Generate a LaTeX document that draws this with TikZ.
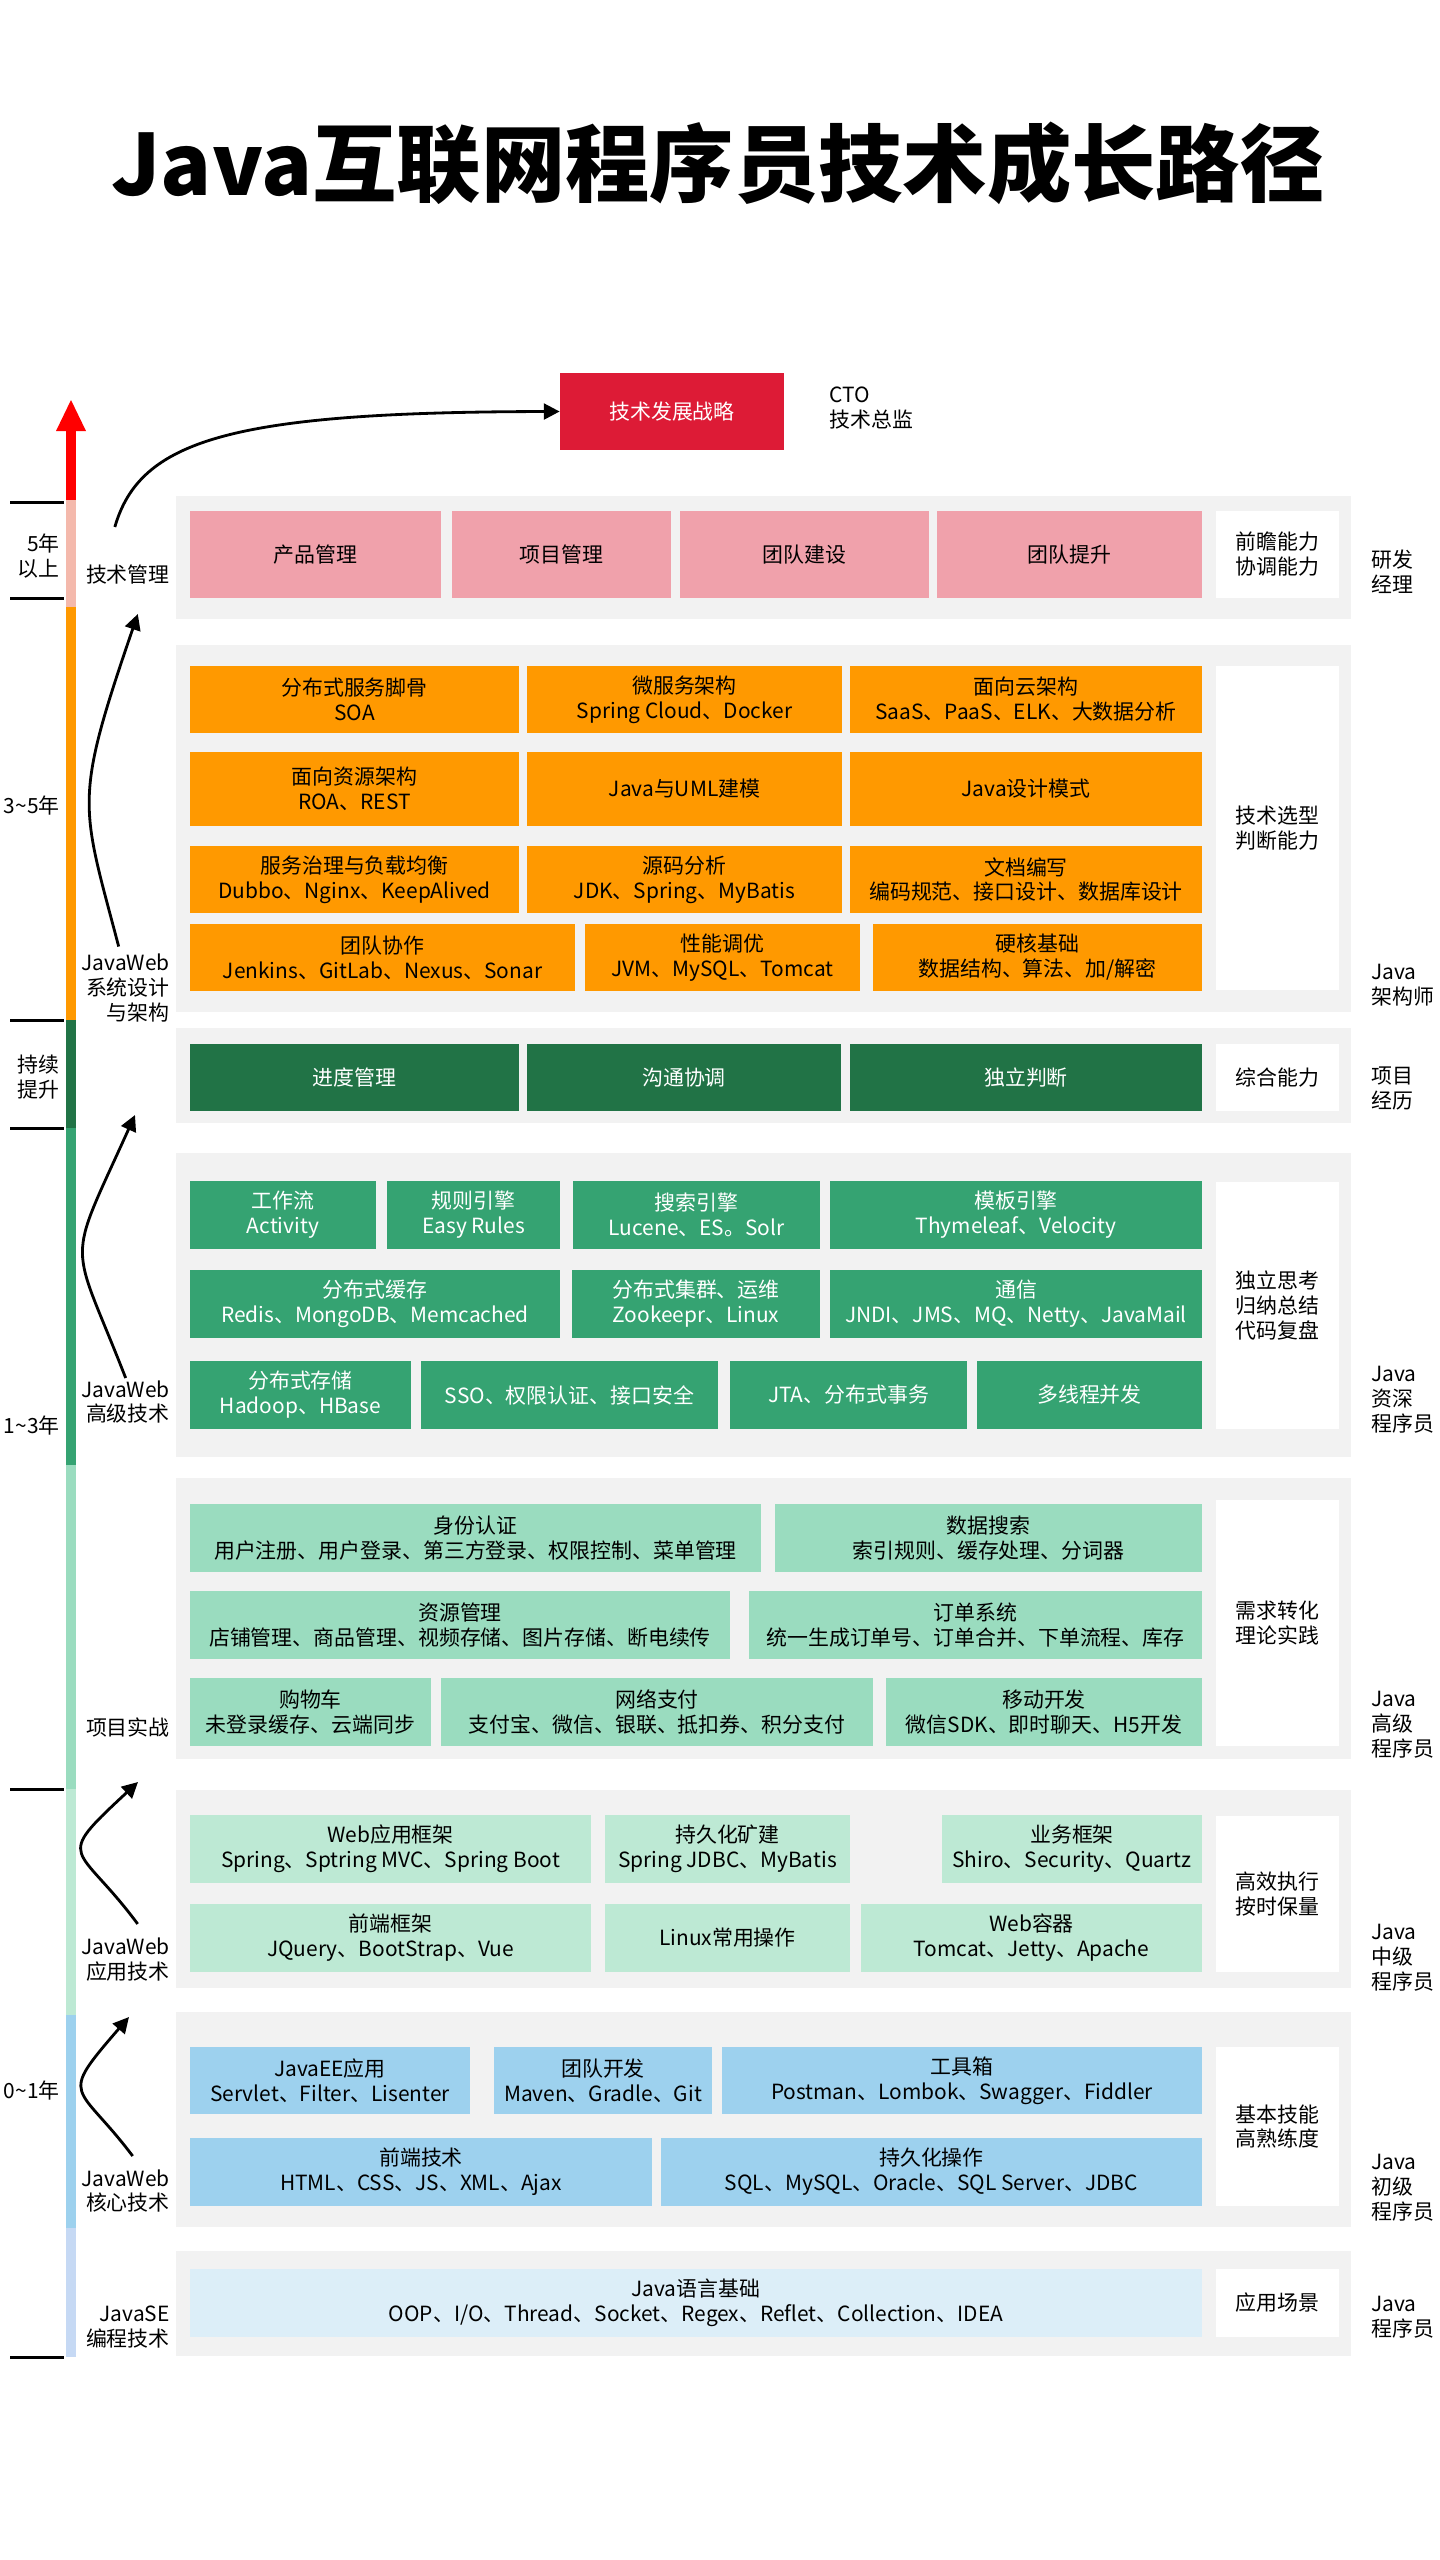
\documentclass[tikz,border=0pt]{standalone}
\usepackage{fontspec}
\setmainfont{Noto Sans CJK SC}
\usetikzlibrary{arrows.meta,calc}
\definecolor{jRed}{HTML}{FF0000}
\definecolor{jCrimson}{HTML}{DD1B36}
\definecolor{jRose}{HTML}{F4B9AC}
\definecolor{jPink}{HTML}{F0A1AB}
\definecolor{jOrange}{HTML}{FF9900}
\definecolor{jDkGreen}{HTML}{217346}
\definecolor{jGreen}{HTML}{35A372}
\definecolor{jMint}{HTML}{9ADCBF}
\definecolor{jPale}{HTML}{BDE9D4}
\definecolor{jBlue}{HTML}{9DD1EE}
\definecolor{jIce}{HTML}{DCEEF8}
\definecolor{jLav}{HTML}{C6D9F4}
\definecolor{jGrey}{HTML}{F2F2F2}
\newcommand{\bx}{\fontsize{11.9}{14.2}\selectfont}
\tikzset{
  >={Triangle[length=9pt,width=9pt]},
  sz/.style 2 args={minimum width={(#1)*0.02cm}, minimum height={(#2)*0.02cm}},
  panel/.style={fill=jGrey, inner sep=0pt},
  blk/.style={align=center, inner sep=0pt, font=\bx},
  side/.style={blk, fill=white},
  pinkb/.style={blk, fill=jPink},
  orngb/.style={blk, fill=jOrange},
  dkgb/.style={blk, fill=jDkGreen, text=white},
  grnb/.style={blk, fill=jGreen, text=white},
  mintb/.style={blk, fill=jMint},
  paleb/.style={blk, fill=jPale},
  blueb/.style={blk, fill=jBlue},
  iceb/.style={blk, fill=jIce},
  ltag/.style={font=\bx, align=right, anchor=east, inner sep=0pt},
  rtag/.style={font=\bx, align=left, anchor=west, inner sep=0pt},
  tick/.style={line width=1.7pt},
  flow/.style={->, line width=1.6pt},
}

\begin{document}
\begin{tikzpicture}[x=0.02cm, y=-0.02cm]
  \useasboundingbox (0,0) rectangle (1440,2560);
  \node[font=\fontsize{48}{56}\selectfont\bfseries] (title) at (718,163) {Java互联网程序员技术成长路径};

  % grey bands
  \foreach \n/\ya/\yb in {p1/496/619,p2/645/1012,p3/1028/1123,p4/1153/1457,
                          p5/1478/1759,p6/1790/1988,p7/2012/2227,p8/2251/2356}
    \node[panel, sz={1175}{\yb-\ya}] (\n) at (763.5,{(\ya+\yb)/2}) {};

  % white side boxes
  \node[side, sz={123}{87}]  (w1) at (1277.5,554.5)  {前瞻能力\\协调能力};
  \node[side, sz={123}{324}] (w2) at (1277.5,828)    {技术选型\\判断能力};
  \node[side, sz={123}{67}]  (w3) at (1277.5,1077.5) {综合能力};
  \node[side, sz={123}{247}] (w4) at (1277.5,1305.5) {独立思考\\归纳总结\\代码复盘};
  \node[side, sz={123}{246}] (w5) at (1277.5,1623)   {需求转化\\理论实践};
  \node[side, sz={123}{156}] (w6) at (1277.5,1894)   {高效执行\\按时保量};
  \node[side, sz={123}{159}] (w7) at (1277.5,2126.5) {基本技能\\高熟练度};
  \node[side, sz={123}{68}]  (w8) at (1277.5,2303)   {应用场景};

  % top: strategy
  \node[blk, fill=jCrimson, text=white, sz={224}{77}] (strat) at (672,411.5) {技术发展战略};
  \node[rtag] (cto) at (829,408) {CTO\\技术总监};

  % management
  \foreach \n/\xa/\xb/\txt in {pk1/190/441/产品管理,pk2/452/671/项目管理,
                               pk3/680/929/团队建设,pk4/937/1202/团队提升}
    \node[pinkb, sz={\xb-\xa}{87}] (\n) at ({(\xa+\xb)/2},554.5) {\txt};

  % architecture
  \foreach \n/\xa/\xb/\txt in {or1/190/519/分布式服务脚骨\\SOA,
                               or2/527/842/微服务架构\\Spring Cloud、Docker,
                               or3/850/1202/面向云架构\\SaaS、PaaS、ELK、大数据分析}
    \node[orngb, sz={\xb-\xa}{67}] (\n) at ({(\xa+\xb)/2},699.5) {\txt};
  \foreach \n/\xa/\xb/\txt in {or4/190/519/面向资源架构\\ROA、REST,
                               or5/527/842/Java与UML建模,
                               or6/850/1202/Java设计模式}
    \node[orngb, sz={\xb-\xa}{74}] (\n) at ({(\xa+\xb)/2},789) {\txt};
  \foreach \n/\xa/\xb/\txt in {or7/190/519/服务治理与负载均衡\\Dubbo、Nginx、KeepAlived,
                               or8/527/842/源码分析\\JDK、Spring、MyBatis,
                               or9/850/1202/文档编写\\编码规范、接口设计、数据库设计}
    \node[orngb, sz={\xb-\xa}{67}] (\n) at ({(\xa+\xb)/2},879.5) {\txt};
  \node[orngb, sz={385}{67}] (or10) at (382.5,957.5) {团队协作\\Jenkins、GitLab、Nexus、Sonar};
  \node[orngb, sz={275}{67}] (or11) at (722.5,957.5) {性能调优\\JVM、MySQL、Tomcat};
  \node[orngb, sz={329}{67}] (or12) at (1037.5,957.5) {硬核基础\\数据结构、算法、加/解密};

  % project experience
  \foreach \n/\xa/\xb/\txt in {dg1/190/519/进度管理,dg2/527/841/沟通协调,dg3/850/1202/独立判断}
    \node[dkgb, sz={\xb-\xa}{67}] (\n) at ({(\xa+\xb)/2},1077.5) {\txt};

  % advanced web
  \foreach \n/\xa/\xb/\txt in {gn1/190/376/工作流\\Activity,gn2/387/560/规则引擎\\Easy Rules,
                               gn3/573/820/搜索引擎\\Lucene、ES。Solr,
                               gn4/830/1202/模板引擎\\Thymeleaf、Velocity}
    \node[grnb, sz={\xb-\xa}{68}] (\n) at ({(\xa+\xb)/2},1215) {\txt};
  \foreach \n/\xa/\xb/\txt in {gn5/190/560/分布式缓存\\Redis、MongoDB、Memcached,
                               gn6/572/820/分布式集群、运维\\Zookeepr、Linux,
                               gn7/830/1202/通信\\JNDI、JMS、MQ、Netty、JavaMail}
    \node[grnb, sz={\xb-\xa}{68}] (\n) at ({(\xa+\xb)/2},1304) {\txt};
  \foreach \n/\xa/\xb/\txt in {gn8/190/411/分布式存储\\Hadoop、HBase,gn9/421/718/SSO、权限认证、接口安全,
                               gn10/730/967/JTA、分布式事务,gn11/977/1202/多线程并发}
    \node[grnb, sz={\xb-\xa}{68}] (\n) at ({(\xa+\xb)/2},1395) {\txt};

  % projects
  \foreach \n/\xa/\xb/\txt in {mt1/190/761/身份认证\\用户注册、用户登录、第三方登录、权限控制、菜单管理,
                               mt2/775/1202/数据搜索\\索引规则、缓存处理、分词器}
    \node[mintb, sz={\xb-\xa}{68}] (\n) at ({(\xa+\xb)/2},1538) {\txt};
  \foreach \n/\xa/\xb/\txt in {mt3/190/730/资源管理\\店铺管理、商品管理、视频存储、图片存储、断电续传,
                               mt4/749/1202/订单系统\\统一生成订单号、订单合并、下单流程、库存}
    \node[mintb, sz={\xb-\xa}{68}] (\n) at ({(\xa+\xb)/2},1625) {\txt};
  \foreach \n/\xa/\xb/\txt in {mt5/190/431/购物车\\未登录缓存、云端同步,
                               mt6/441/873/网络支付\\支付宝、微信、银联、抵扣券、积分支付,
                               mt7/886/1202/移动开发\\微信SDK、即时聊天、H5开发}
    \node[mintb, sz={\xb-\xa}{68}] (\n) at ({(\xa+\xb)/2},1712) {\txt};

  % web application
  \foreach \n/\xa/\xb/\txt in {pl1/190/591/Web应用框架\\Spring、Sptring MVC、Spring Boot,
                               pl2/605/850/持久化矿建\\Spring JDBC、MyBatis,
                               pl3/942/1202/业务框架\\Shiro、Security、Quartz}
    \node[paleb, sz={\xb-\xa}{68}] (\n) at ({(\xa+\xb)/2},1849) {\txt};
  \foreach \n/\xa/\xb/\txt in {pl4/190/591/前端框架\\JQuery、BootStrap、Vue,
                               pl5/605/850/Linux常用操作,
                               pl6/861/1202/Web容器\\Tomcat、Jetty、Apache}
    \node[paleb, sz={\xb-\xa}{68}] (\n) at ({(\xa+\xb)/2},1938) {\txt};

  % web core
  \foreach \n/\xa/\xb/\txt in {bl1/190/470/JavaEE应用\\Servlet、Filter、Lisenter,
                               bl2/494/712/团队开发\\Maven、Gradle、Git,
                               bl3/722/1202/工具箱\\Postman、Lombok、Swagger、Fiddler}
    \node[blueb, sz={\xb-\xa}{67}] (\n) at ({(\xa+\xb)/2},2080.5) {\txt};
  \foreach \n/\xa/\xb/\txt in {bl4/190/652/前端技术\\HTML、CSS、JS、XML、Ajax,
                               bl5/661/1202/持久化操作\\SQL、MySQL、Oracle、SQL Server、JDBC}
    \node[blueb, sz={\xb-\xa}{68}] (\n) at ({(\xa+\xb)/2},2172) {\txt};

  % java se
  \node[iceb, sz={1012}{68}] (ic1) at (696,2303)
       {Java语言基础\\OOP、I/O、Thread、Socket、Regex、Reflet、Collection、IDEA};

  % role labels (right)
  \node[rtag] (r1) at (1371,572)  {研发\\经理};
  \node[rtag] (r2) at (1371,985)  {Java\\架构师};
  \node[rtag] (r3) at (1371,1088) {项目\\经历};
  \node[rtag] (r4) at (1371,1400) {Java\\资深\\程序员};
  \node[rtag] (r5) at (1371,1725) {Java\\高级\\程序员};
  \node[rtag] (r6) at (1371,1958) {Java\\中级\\程序员};
  \node[rtag] (r7) at (1371,2188) {Java\\初级\\程序员};
  \node[rtag] (r8) at (1371,2317) {Java\\程序员};

  % stage labels (left)
  \node[ltag] (tm)   at (170,575)  {技术管理};
  \node[ltag] (sysd) at (170,988)  {JavaWeb\\系统设计\\与架构};
  \node[ltag] (adv)  at (170,1402) {JavaWeb\\高级技术};
  \node[ltag] (prj)  at (170,1727) {项目实战};
  \node[ltag] (appl) at (170,1960) {JavaWeb\\应用技术};
  \node[ltag] (core) at (170,2191) {JavaWeb\\核心技术};
  \node[ltag] (jse)  at (170,2327) {JavaSE\\编程技术};

  % years
  \node[ltag] (y1) at (60,556)  {5年\\以上};
  \node[ltag] (y2) at (60,805)  {3\textasciitilde5年};
  \node[ltag] (y3) at (60,1077) {持续\\提升};
  \node[ltag] (y4) at (60,1425) {1\textasciitilde3年};
  \node[ltag] (y5) at (60,2090) {0\textasciitilde1年};

  % time bar
  \fill[jRed] (71,400) -- (56,431) -- (86,431) -- cycle;
  \fill[jRed]     (66,430)  rectangle (76,500);
  \fill[jRose]    (66,500)  rectangle (76,607);
  \fill[jOrange]  (66,607)  rectangle (76,1020);
  \fill[jDkGreen] (66,1020) rectangle (76,1128);
  \fill[jGreen]   (66,1128) rectangle (76,1465);
  \fill[jMint]    (66,1465) rectangle (76,1789);
  \fill[jPale]    (66,1789) rectangle (76,2015);
  \fill[jBlue]    (66,2015) rectangle (76,2228);
  \fill[jLav]     (66,2228) rectangle (76,2357);
  \foreach \y in {502,598,1020,1128,1789,2357}
    \draw[tick] (10,\y) -- (64,\y);

  % growth arrows
  \coordinate (c3) at (135,1115);
  \coordinate (c4) at (138,1782);
  \coordinate (c5) at (129,2017);
  \draw[flow] ($(tm.north)+(-13,-38)$) .. controls (140,440) and (230,412) .. (strat.west);
  \draw[flow] ($(sysd.north)+(-7,-7)$) .. controls (81,803) and (73,803) .. ($(tm.south)+(10,29)$);
  \draw[flow] ($(adv.north)+(0,-2)$) .. controls (70,1235) and (65,1270) .. (c3);
  \draw[flow] ($(appl.north)+(12,-14)$) .. controls (77,1842) and (52,1862) .. (c4);
  \draw[flow] ($(core.north)+(7,-13)$) .. controls (77,2082) and (57,2100) .. (c5);
\end{tikzpicture}
\end{document}
